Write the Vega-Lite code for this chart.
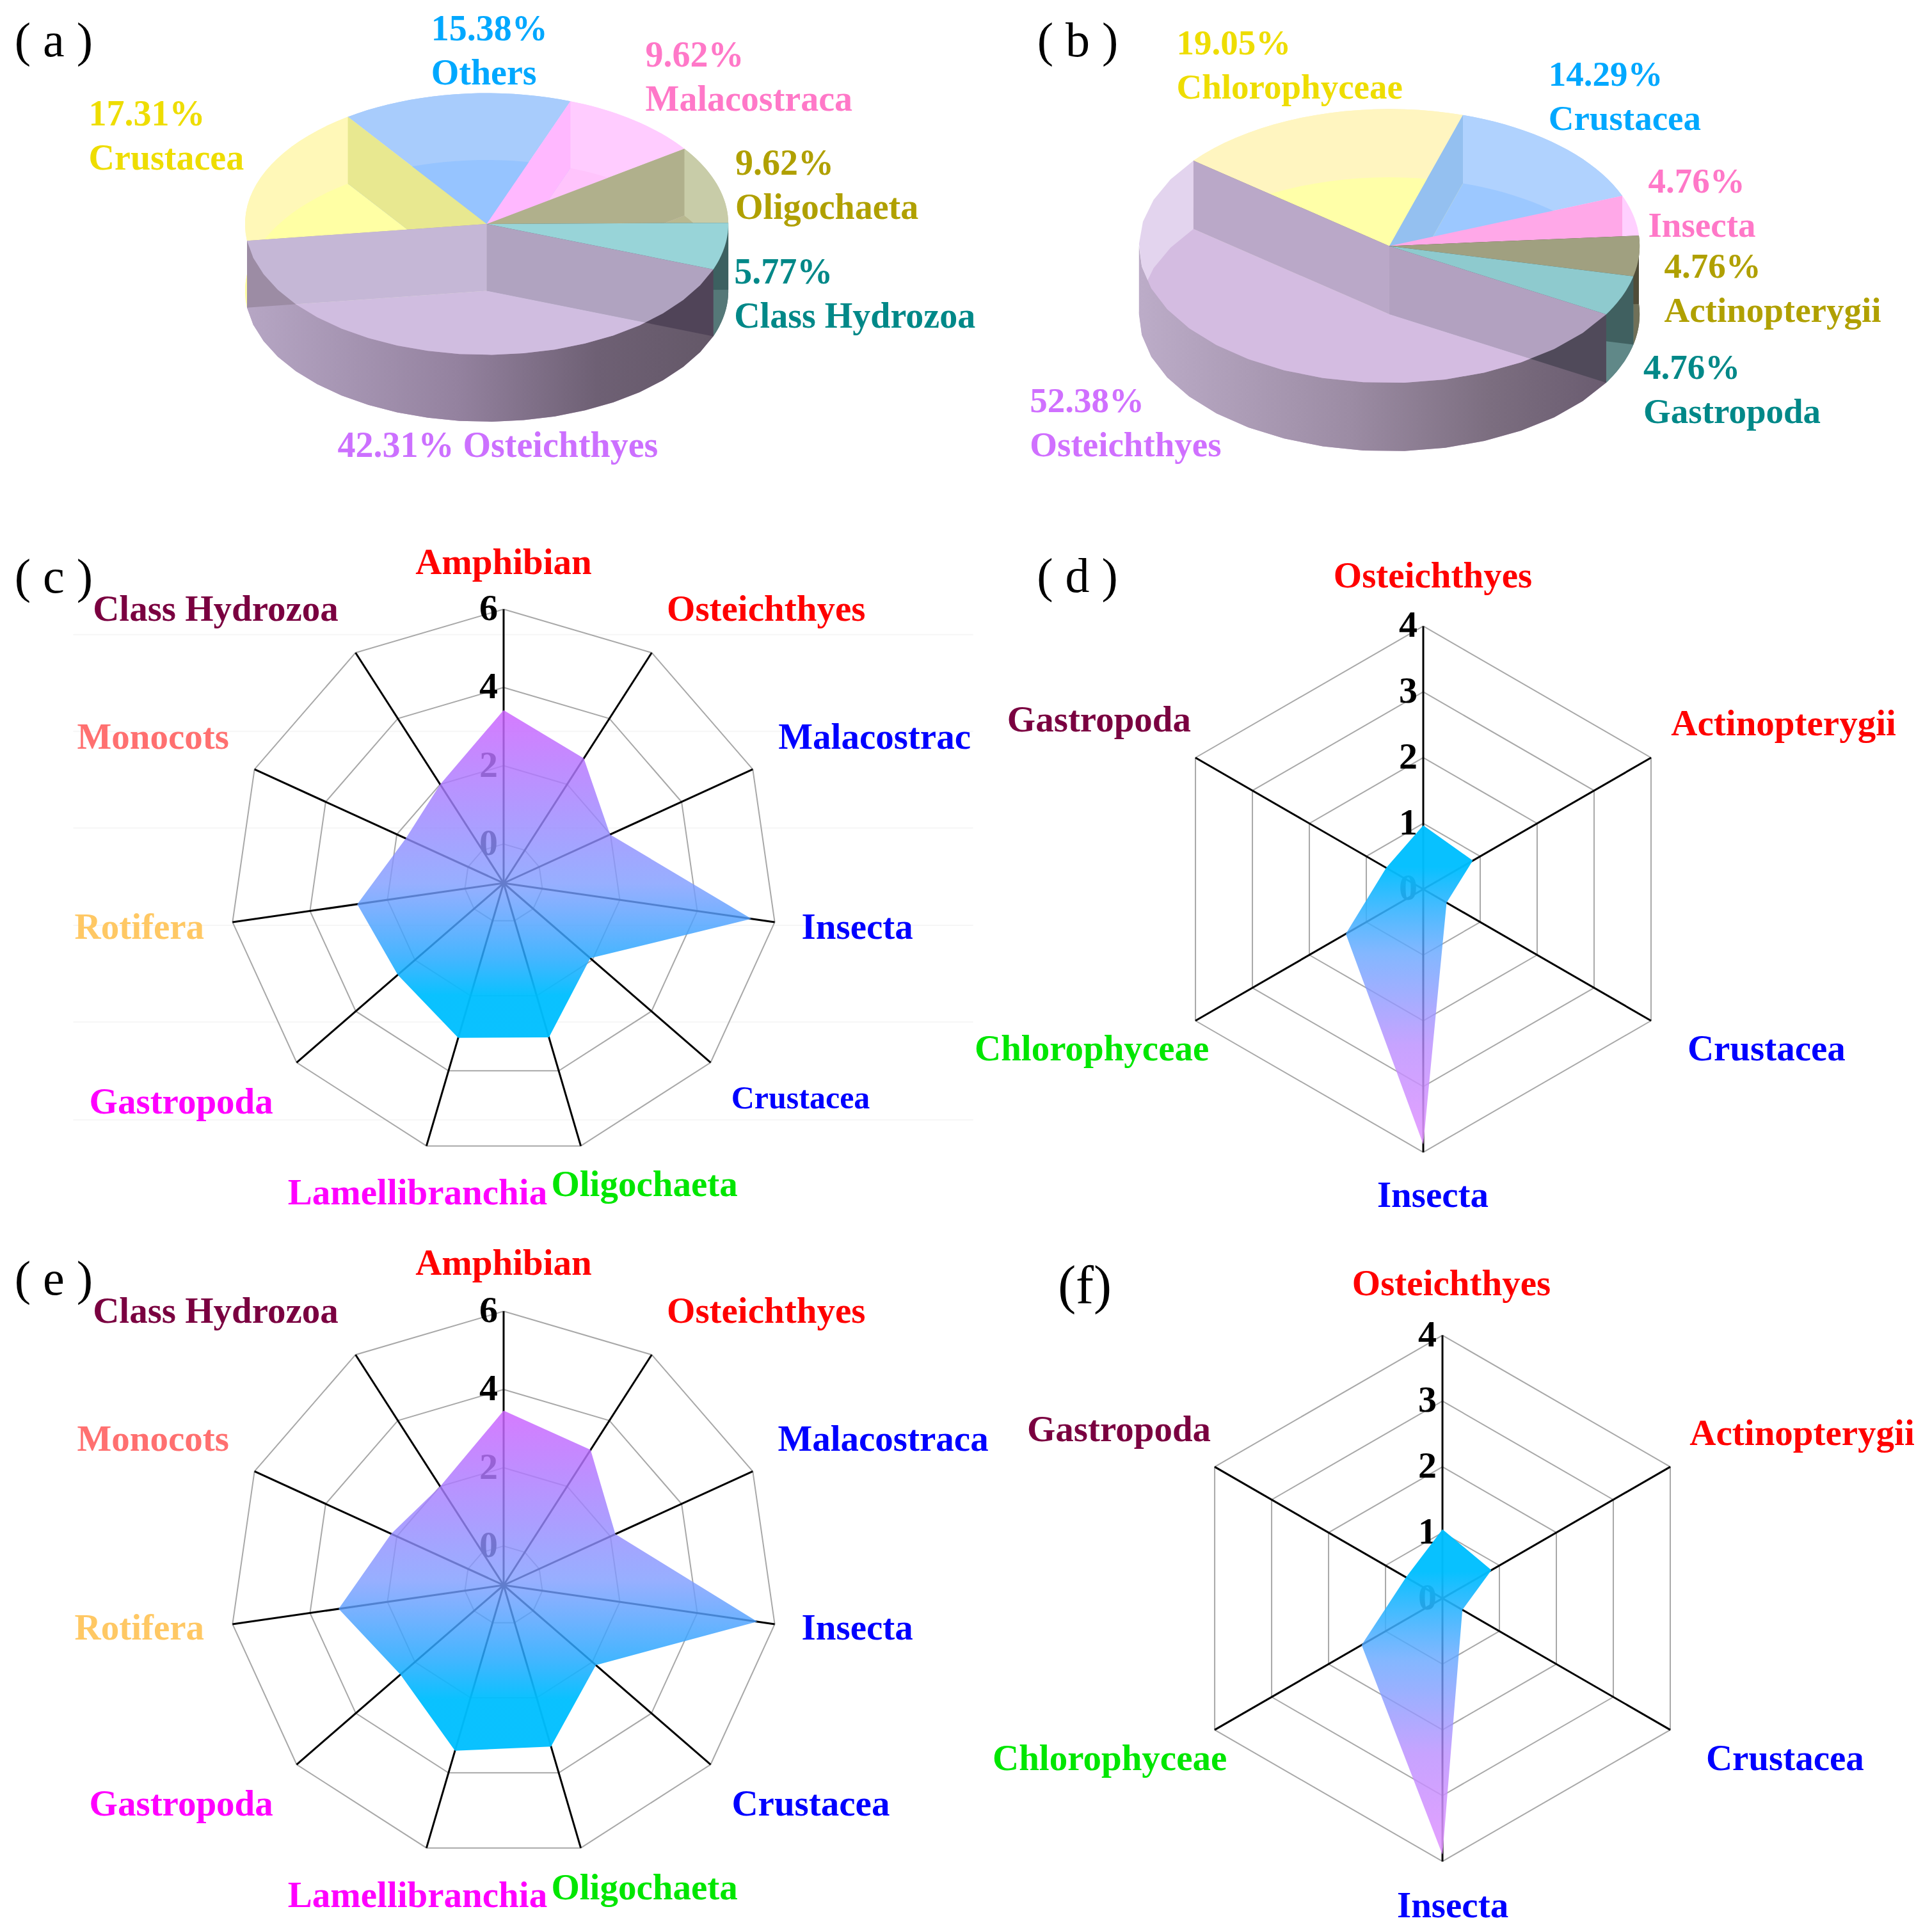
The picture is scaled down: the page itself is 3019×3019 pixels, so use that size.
{"$schema":"https://vega.github.io/schema/vega-lite/v6.json","padding":0,"background":"white","spacing":0,"resolve":{"scale":{"color":"independent","fill":"independent"}},"config":{"view":{"stroke":null},"concat":{"spacing":0},"text":{"font":"Liberation Serif"}},
"datasets":{
"pieA":[{"k":1,"slice":"Others","value":15.38},{"k":2,"slice":"Malacostraca","value":9.62},{"k":3,"slice":"Oligochaeta","value":9.62},{"k":4,"slice":"Class Hydrozoa","value":5.77},{"k":5,"slice":"Osteichthyes","value":42.31},{"k":6,"slice":"Crustacea","value":17.31}],
"pieB":[{"k":1,"slice":"Crustacea","value":14.29},{"k":2,"slice":"Insecta","value":4.76},{"k":3,"slice":"Actinopterygii","value":4.76},{"k":4,"slice":"Gastropoda","value":4.76},{"k":5,"slice":"Osteichthyes","value":52.38},{"k":6,"slice":"Chlorophyceae","value":19.05}],
"radarC":[{"cat":"Amphibian","i":0,"v":3.42},{"cat":"Osteichthyes","i":1,"v":2.79},{"cat":"Malacostraca","i":2,"v":1.99},{"cat":"Insecta","i":3,"v":5.4},{"cat":"Crustacea","i":4,"v":1.93},{"cat":"Oligochaeta","i":5,"v":3.11},{"cat":"Lamellibranchia","i":6,"v":3.12},{"cat":"Gastropoda","i":7,"v":2.58},{"cat":"Rotifera","i":8,"v":2.78},{"cat":"Monocots","i":9,"v":1.75},{"cat":"Class Hydrozoa","i":10,"v":2.0}],
"radarE":[{"cat":"Amphibian","i":0,"v":3.46},{"cat":"Osteichthyes","i":1,"v":3.11},{"cat":"Malacostraca","i":2,"v":2.14},{"cat":"Insecta","i":3,"v":5.55},{"cat":"Crustacea","i":4,"v":2.12},{"cat":"Oligochaeta","i":5,"v":3.3},{"cat":"Lamellibranchia","i":6,"v":3.41},{"cat":"Gastropoda","i":7,"v":2.49},{"cat":"Rotifera","i":8,"v":3.26},{"cat":"Monocots","i":9,"v":2.16},{"cat":"Class Hydrozoa","i":10,"v":2.0}],
"radarD":[{"cat":"Osteichthyes","i":0,"v":0.97},{"cat":"Actinopterygii","i":1,"v":0.87},{"cat":"Crustacea","i":2,"v":0.41},{"cat":"Insecta","i":3,"v":3.88},{"cat":"Chlorophyceae","i":4,"v":1.36},{"cat":"Gastropoda","i":5,"v":0.65}],
"radarF":[{"cat":"Osteichthyes","i":0,"v":1.05},{"cat":"Actinopterygii","i":1,"v":0.86},{"cat":"Crustacea","i":2,"v":0.35},{"cat":"Insecta","i":3,"v":3.9},{"cat":"Chlorophyceae","i":4,"v":1.42},{"cat":"Gastropoda","i":5,"v":0.64}],
"ring11":[{"ring":0,"i":[0,1,2,3,4,5,6,7,8,9,10,11]},{"ring":2,"i":[0,1,2,3,4,5,6,7,8,9,10,11]},{"ring":4,"i":[0,1,2,3,4,5,6,7,8,9,10,11]},{"ring":6,"i":[0,1,2,3,4,5,6,7,8,9,10,11]}],
"ring6":[{"ring":1,"i":[0,1,2,3,4,5,6]},{"ring":2,"i":[0,1,2,3,4,5,6]},{"ring":3,"i":[0,1,2,3,4,5,6]},{"ring":4,"i":[0,1,2,3,4,5,6]}],
"tick6":[{"ring":0},{"ring":1},{"ring":2},{"ring":3},{"ring":4}]
},
"vconcat":[
{"spacing":0,"resolve":{"scale":{"color":"independent","fill":"independent"}},"hconcat":[
{"width":1558,"height":800,"data":{"name":"pieA"},"resolve":{"scale":{"color":"independent","fill":"independent"}},
"transform":[{"window":[{"op":"sum","field":"value","as":"cum"}],"sort":[{"field":"k"}]},{"calculate":"(datum.cum-datum.value)*0.0628319-0.6126","as":"a0"},{"calculate":"datum.cum*0.0628319-0.6126","as":"a1"}],
"encoding":{"x":{"field":"x","type":"quantitative","axis":null,"scale":{"domain":[-2.014,2.112],"nice":false,"zero":false}},"y":{"field":"y","type":"quantitative","axis":null,"scale":{"domain":[-2.2005,1.7115],"nice":false,"zero":false}}},
"layer":[
{"transform":[{"filter":{"field":"slice","oneOf":["Others","Malacostraca","Oligochaeta","Crustacea"]}},{"calculate":"sequence(0,42)","as":"p"},{"flatten":["p"]},{"calculate":"datum.a0+(datum.a1-datum.a0)*(datum.p<=20?datum.p:41-datum.p)/20","as":"ang"},{"calculate":"sin(datum.ang)","as":"x"},{"calculate":"cos(datum.ang)-(datum.p>20?0.511:0)","as":"y"}],
"mark":{"type":"line","strokeWidth":0},"encoding":{"order":{"field":"p","type":"quantitative"},"fill":{"field":"slice","type":"nominal","legend":null,"scale":{"domain":["Others","Malacostraca","Oligochaeta","Crustacea"],"range":["#a8ccfc","#ffccff","#c8cca8","#fff8b8"]}}}},
{"transform":[{"filter":{"field":"slice","oneOf":["Others","Malacostraca","Oligochaeta","Crustacea"]}},{"calculate":"sequence(-1,21)","as":"p"},{"flatten":["p"]},{"calculate":"datum.a0+(datum.a1-datum.a0)*datum.p/20","as":"ang"},{"calculate":"datum.p<0?0:sin(datum.ang)","as":"x"},{"calculate":"datum.p<0?0:cos(datum.ang)","as":"y"}],
"mark":{"type":"line","strokeWidth":0},"encoding":{"order":{"field":"p","type":"quantitative"},"fill":{"field":"slice","type":"nominal","legend":null,"scale":{"domain":["Others","Malacostraca","Oligochaeta","Crustacea"],"range":["#a8ccfc","#ffccff","#c8cca8","#fff8b8"]}}}},
{"transform":[{"calculate":"sequence(-1,21)","as":"p"},{"flatten":["p"]},{"calculate":"datum.a0+(datum.a1-datum.a0)*datum.p/20","as":"ang"},{"calculate":"datum.p<0?0:sin(datum.ang)","as":"x"},{"calculate":"(datum.p<0?0:cos(datum.ang))-0.511","as":"y"}],
"mark":{"type":"line","strokeWidth":0},"encoding":{"order":{"field":"p","type":"quantitative"},"fill":{"field":"slice","type":"nominal","legend":null,"scale":{"domain":["Others","Malacostraca","Oligochaeta","Class Hydrozoa","Osteichthyes","Crustacea"],"range":["#96c4ff","#ffc4fc","#b8b890","#557878","#c1a0c8","#ffffa4"]}}}},
{"transform":[{"filter":{"field":"slice","equal":"Class Hydrozoa"}},{"calculate":"sequence(0,42)","as":"p"},{"flatten":["p"]},{"calculate":"datum.a0+(datum.a1-datum.a0)*(datum.p<=20?datum.p:41-datum.p)/20","as":"ang"},{"calculate":"sin(datum.ang)","as":"x"},{"calculate":"cos(datum.ang)-(datum.p>20?0.511:0)","as":"y"}],
"mark":{"type":"line","strokeWidth":0,"fill":"#557878"},"encoding":{"order":{"field":"p","type":"quantitative"}}},
{"transform":[{"filter":{"field":"slice","equal":"Osteichthyes"}},{"calculate":"sequence(0,42)","as":"p"},{"flatten":["p"]},{"calculate":"datum.a0+(datum.a1-datum.a0)*(datum.p<=20?datum.p:41-datum.p)/20","as":"ang"},{"calculate":"sin(datum.ang)","as":"x"},{"calculate":"cos(datum.ang)-(datum.p>20?0.511:0)","as":"y"}],
"mark":{"type":"line","strokeWidth":0,"fill":{"gradient":"linear","x1":1,"y1":0,"x2":0,"y2":0,"stops":[{"offset":0,"color":"#645868"},{"offset":0.25,"color":"#6e6074"},{"offset":0.55,"color":"#94829f"},{"offset":1,"color":"#b6a6c4"}]}},"encoding":{"order":{"field":"p","type":"quantitative"}}},
{"transform":[{"filter":{"field":"slice","oneOf":["Malacostraca","Oligochaeta","Class Hydrozoa"]}},{"calculate":"sequence(0,4)","as":"p"},{"flatten":["p"]},{"calculate":"(datum.p==1||datum.p==2)?sin(datum.a0):0","as":"x"},{"calculate":"((datum.p==1||datum.p==2)?cos(datum.a0):0)-(datum.p>=2?0.511:0)","as":"y"}],
"mark":{"type":"line","strokeWidth":0},"encoding":{"order":{"field":"p","type":"quantitative"},"fill":{"field":"slice","type":"nominal","legend":null,"scale":{"domain":["Malacostraca","Oligochaeta","Class Hydrozoa"],"range":["#ffb8ff","#b0b08c","#3c6060"]}}}},
{"transform":[{"filter":{"field":"slice","equal":"Crustacea"}},{"calculate":"sequence(0,4)","as":"p"},{"flatten":["p"]},{"calculate":"(datum.p==1||datum.p==2)?sin(datum.a1):0","as":"x"},{"calculate":"((datum.p==1||datum.p==2)?cos(datum.a1):0)-(datum.p>=2?0.511:0)","as":"y"}],
"mark":{"type":"line","strokeWidth":0,"fill":"#e8e890"},"encoding":{"order":{"field":"p","type":"quantitative"}}},
{"transform":[{"filter":{"field":"slice","equal":"Osteichthyes"}},{"calculate":"sequence(0,4)","as":"p"},{"flatten":["p"]},{"calculate":"(datum.p==1||datum.p==2)?sin(datum.a1):0","as":"x"},{"calculate":"((datum.p==1||datum.p==2)?cos(datum.a1):0)-(datum.p>=2?0.511:0)","as":"y"}],
"mark":{"type":"line","strokeWidth":0,"fill":"#9c8ca4"},"encoding":{"order":{"field":"p","type":"quantitative"}}},
{"transform":[{"filter":{"field":"slice","equal":"Osteichthyes"}},{"calculate":"sequence(0,4)","as":"p"},{"flatten":["p"]},{"calculate":"(datum.p==1||datum.p==2)?sin(datum.a0):0","as":"x"},{"calculate":"((datum.p==1||datum.p==2)?cos(datum.a0):0)-(datum.p>=2?0.511:0)","as":"y"}],
"mark":{"type":"line","strokeWidth":0,"fill":"#504458"},"encoding":{"order":{"field":"p","type":"quantitative"}}},
{"transform":[{"filter":{"field":"slice","equal":"Class Hydrozoa"}},{"calculate":"sequence(-1,21)","as":"p"},{"flatten":["p"]},{"calculate":"datum.a0+(datum.a1-datum.a0)*datum.p/20","as":"ang"},{"calculate":"datum.p<0?0:sin(datum.ang)","as":"x"},{"calculate":"datum.p<0?0:cos(datum.ang)","as":"y"}],
"mark":{"type":"line","strokeWidth":0,"fill":"#98d4d8"},"encoding":{"order":{"field":"p","type":"quantitative"}}},
{"transform":[{"filter":{"field":"slice","equal":"Osteichthyes"}},{"calculate":"sequence(-1,21)","as":"p"},{"flatten":["p"]},{"calculate":"datum.a0+(datum.a1-datum.a0)*datum.p/20","as":"ang"},{"calculate":"datum.p<0?0:sin(datum.ang)","as":"x"},{"calculate":"datum.p<0?0:cos(datum.ang)","as":"y"}],
"mark":{"type":"line","strokeWidth":0,"fill":"#d6c7e9","fillOpacity":0.72},"encoding":{"order":{"field":"p","type":"quantitative"}}},
{"data":{"values":[{"label":"15.38%\nOthers","x":-0.2297,"y":1.4847},{"label":"9.62%\nMalacostraca","x":0.657,"y":1.2867},{"label":"17.31%\nCrustacea","x":-1.647,"y":0.8357},{"label":"9.62%\nOligochaeta","x":1.029,"y":0.4587},{"label":"5.77%\nClass Hydrozoa","x":1.024,"y":-0.3693},{"label":"42.31% Osteichthyes","x":-0.617,"y":-1.696}]},
"mark":{"type":"text","align":"left","baseline":"middle","font":"Liberation Serif","fontWeight":"bold","fontSize":56,"lineBreak":"\n","lineHeight":69},
"encoding":{"text":{"field":"label"},"color":{"field":"label","type":"nominal","legend":null,"scale":{"domain":["15.38%\nOthers","9.62%\nMalacostraca","17.31%\nCrustacea","9.62%\nOligochaeta","5.77%\nClass Hydrozoa","42.31% Osteichthyes"],"range":["#00a8ff","#ff78c8","#eedd00","#b0a000","#008888","#cc70ff"]}}}},
{"data":{"values":[{"tag":"( a )","x":-1.7916,"y":1.394}]},"mark":{"type":"text","font":"Liberation Serif","fontSize":76,"baseline":"middle","color":"#000000"},"encoding":{"text":{"field":"tag"}}}
]},
{"width":1461,"height":800,"data":{"name":"pieB"},"resolve":{"scale":{"color":"independent","fill":"independent"}},
"transform":[{"window":[{"op":"sum","field":"value","as":"cum"}],"sort":[{"field":"k"}]},{"calculate":"(datum.cum-datum.value)*0.0628319+0.29845","as":"a0"},{"calculate":"datum.cum*0.0628319+0.29845","as":"a1"}],
"encoding":{"x":{"field":"x","type":"quantitative","axis":null,"scale":{"domain":[-1.567,2.168],"nice":false,"zero":false}},"y":{"field":"y","type":"quantitative","axis":null,"scale":{"domain":[-1.942,1.796],"nice":false,"zero":false}}},
"layer":[
{"transform":[{"filter":{"field":"slice","oneOf":["Crustacea","Insecta","Chlorophyceae"]}},{"calculate":"sequence(0,42)","as":"p"},{"flatten":["p"]},{"calculate":"datum.a0+(datum.a1-datum.a0)*(datum.p<=20?datum.p:41-datum.p)/20","as":"ang"},{"calculate":"sin(datum.ang)","as":"x"},{"calculate":"cos(datum.ang)-(datum.p>20?0.4986:0)","as":"y"}],
"mark":{"type":"line","strokeWidth":0},"encoding":{"order":{"field":"p","type":"quantitative"},"fill":{"field":"slice","type":"nominal","legend":null,"scale":{"domain":["Crustacea","Insecta","Chlorophyceae"],"range":["#b0d2fe","#ffd0ff","#fff5c0"]}}}},
{"transform":[{"filter":{"field":"slice","oneOf":["Crustacea","Insecta","Chlorophyceae"]}},{"calculate":"sequence(-1,21)","as":"p"},{"flatten":["p"]},{"calculate":"datum.a0+(datum.a1-datum.a0)*datum.p/20","as":"ang"},{"calculate":"datum.p<0?0:sin(datum.ang)","as":"x"},{"calculate":"datum.p<0?0:cos(datum.ang)","as":"y"}],
"mark":{"type":"line","strokeWidth":0},"encoding":{"order":{"field":"p","type":"quantitative"},"fill":{"field":"slice","type":"nominal","legend":null,"scale":{"domain":["Crustacea","Insecta","Chlorophyceae"],"range":["#b0d2fe","#ffd0ff","#fff5c0"]}}}},
{"transform":[{"calculate":"sequence(-1,21)","as":"p"},{"flatten":["p"]},{"calculate":"datum.a0+(datum.a1-datum.a0)*datum.p/20","as":"ang"},{"calculate":"datum.p<0?0:sin(datum.ang)","as":"x"},{"calculate":"(datum.p<0?0:cos(datum.ang))-0.4986","as":"y"}],
"mark":{"type":"line","strokeWidth":0},"encoding":{"order":{"field":"p","type":"quantitative"},"fill":{"field":"slice","type":"nominal","legend":null,"scale":{"domain":["Crustacea","Insecta","Actinopterygii","Gastropoda","Osteichthyes","Chlorophyceae"],"range":["#9cc8ff","#ffc0f0","#707058","#608888","#c8a8d0","#ffffa8"]}}}},
{"transform":[{"filter":{"field":"slice","oneOf":["Actinopterygii","Gastropoda"]}},{"calculate":"sequence(0,42)","as":"p"},{"flatten":["p"]},{"calculate":"datum.a0+(datum.a1-datum.a0)*(datum.p<=20?datum.p:41-datum.p)/20","as":"ang"},{"calculate":"sin(datum.ang)","as":"x"},{"calculate":"cos(datum.ang)-(datum.p>20?0.4986:0)","as":"y"}],
"mark":{"type":"line","strokeWidth":0},"encoding":{"order":{"field":"p","type":"quantitative"},"fill":{"field":"slice","type":"nominal","legend":null,"scale":{"domain":["Actinopterygii","Gastropoda"],"range":["#707058","#608888"]}}}},
{"transform":[{"filter":{"field":"slice","equal":"Osteichthyes"}},{"calculate":"sequence(0,42)","as":"p"},{"flatten":["p"]},{"calculate":"min(4.7124,datum.a0+(datum.a1-datum.a0)*(datum.p<=20?datum.p:41-datum.p)/20)","as":"ang"},{"calculate":"sin(datum.ang)","as":"x"},{"calculate":"cos(datum.ang)-(datum.p>20?0.4986:0)","as":"y"}],
"mark":{"type":"line","strokeWidth":0,"fill":{"gradient":"linear","x1":1,"y1":0,"x2":0,"y2":0,"stops":[{"offset":0,"color":"#6a5c70"},{"offset":0.25,"color":"#7c6e80"},{"offset":0.55,"color":"#9c8ca4"},{"offset":1,"color":"#bcacc8"}]}},"encoding":{"order":{"field":"p","type":"quantitative"}}},
{"transform":[{"filter":{"field":"slice","oneOf":["Crustacea","Insecta","Actinopterygii","Gastropoda"]}},{"calculate":"sequence(0,4)","as":"p"},{"flatten":["p"]},{"calculate":"(datum.p==1||datum.p==2)?sin(datum.a0):0","as":"x"},{"calculate":"((datum.p==1||datum.p==2)?cos(datum.a0):0)-(datum.p>=2?0.4986:0)","as":"y"}],
"mark":{"type":"line","strokeWidth":0},"encoding":{"order":{"field":"p","type":"quantitative"},"fill":{"field":"slice","type":"nominal","legend":null,"scale":{"domain":["Crustacea","Insecta","Actinopterygii","Gastropoda"],"range":["#94c0f0","#ffa8e8","#504c38","#406060"]}}}},
{"transform":[{"filter":{"field":"slice","equal":"Osteichthyes"}},{"calculate":"sequence(0,4)","as":"p"},{"flatten":["p"]},{"calculate":"(datum.p==1||datum.p==2)?sin(datum.a1):0","as":"x"},{"calculate":"((datum.p==1||datum.p==2)?cos(datum.a1):0)-(datum.p>=2?0.4986:0)","as":"y"}],
"mark":{"type":"line","strokeWidth":0,"fill":"#6e6078"},"encoding":{"order":{"field":"p","type":"quantitative"}}},
{"transform":[{"filter":{"field":"slice","equal":"Osteichthyes"}},{"calculate":"sequence(0,4)","as":"p"},{"flatten":["p"]},{"calculate":"(datum.p==1||datum.p==2)?sin(datum.a0):0","as":"x"},{"calculate":"((datum.p==1||datum.p==2)?cos(datum.a0):0)-(datum.p>=2?0.4986:0)","as":"y"}],
"mark":{"type":"line","strokeWidth":0,"fill":"#504a5a"},"encoding":{"order":{"field":"p","type":"quantitative"}}},
{"transform":[{"filter":{"field":"slice","oneOf":["Actinopterygii","Gastropoda"]}},{"calculate":"sequence(-1,21)","as":"p"},{"flatten":["p"]},{"calculate":"datum.a0+(datum.a1-datum.a0)*datum.p/20","as":"ang"},{"calculate":"datum.p<0?0:sin(datum.ang)","as":"x"},{"calculate":"datum.p<0?0:cos(datum.ang)","as":"y"}],
"mark":{"type":"line","strokeWidth":0},"encoding":{"order":{"field":"p","type":"quantitative"},"fill":{"field":"slice","type":"nominal","legend":null,"scale":{"domain":["Actinopterygii","Gastropoda"],"range":["#a0a080","#8ecace"]}}}},
{"transform":[{"filter":{"field":"slice","equal":"Osteichthyes"}},{"calculate":"sequence(-1,21)","as":"p"},{"flatten":["p"]},{"calculate":"datum.a0+(datum.a1-datum.a0)*datum.p/20","as":"ang"},{"calculate":"datum.p<0?0:sin(datum.ang)","as":"x"},{"calculate":"datum.p<0?0:cos(datum.ang)","as":"y"}],
"mark":{"type":"line","strokeWidth":0,"fill":"#d8c4e8","fillOpacity":0.72},"encoding":{"order":{"field":"p","type":"quantitative"}}},
{"data":{"values":[{"label":"19.05%\nChlorophyceae","x":-0.85,"y":1.48},{"label":"14.29%\nCrustacea","x":0.636,"y":1.247},{"label":"4.76%\nInsecta","x":1.034,"y":0.468},{"label":"4.76%\nActinopterygii","x":1.098,"y":-0.152},{"label":"4.76%\nGastropoda","x":1.015,"y":-0.89},{"label":"52.38%\nOsteichthyes","x":-1.436,"y":-1.133}]},
"mark":{"type":"text","align":"left","baseline":"middle","font":"Liberation Serif","fontWeight":"bold","fontSize":55,"lineBreak":"\n","lineHeight":69},
"encoding":{"text":{"field":"label"},"color":{"field":"label","type":"nominal","legend":null,"scale":{"domain":["19.05%\nChlorophyceae","14.29%\nCrustacea","4.76%\nInsecta","4.76%\nActinopterygii","4.76%\nGastropoda","52.38%\nOsteichthyes"],"range":["#eedd00","#00a8ff","#ff78c8","#b0a000","#008888","#d070ff"]}}}},
{"data":{"values":[{"tag":"( b )","x":-1.245,"y":1.4925}]},"mark":{"type":"text","font":"Liberation Serif","fontSize":76,"baseline":"middle","color":"#000000"},"encoding":{"text":{"field":"tag"}}}
]}
]},
{"spacing":0,"resolve":{"scale":{"color":"independent","fill":"independent"}},"hconcat":[
{"width":1522,"height":1135,"resolve":{"scale":{"color":"independent","fill":"independent"}},
"encoding":{"x":{"field":"x","type":"quantitative","axis":null,"scale":{"domain":[-12.872,12.022],"nice":false,"zero":false}},"y":{"field":"y","type":"quantitative","axis":null,"scale":{"domain":[-9.077,9.486],"nice":false,"zero":false}}},
"layer":[
{"data":{"values":[{"x":-11,"y":6.35},{"x":-11,"y":3.88},{"x":-11,"y":1.41},{"x":-11,"y":-1.08},{"x":-11,"y":-3.55},{"x":-11,"y":-6.05}]},"mark":{"type":"rule","color":"#f6f6f6","strokeWidth":2},"encoding":{"x2":{"datum":12.0},"y2":{"field":"y"}}},
{"data":{"name":"ring11"},"transform":[{"flatten":["i"]},{"calculate":"datum.i*2*PI/11","as":"a"},{"calculate":"(datum.ring+1)*sin(datum.a)","as":"x"},{"calculate":"(datum.ring+1)*cos(datum.a)","as":"y"}],"mark":{"type":"line","color":"#a8a8a8","strokeWidth":2},"encoding":{"detail":{"field":"ring"},"order":{"field":"i","type":"quantitative"}}},
{"data":{"name":"radarC"},"transform":[{"calculate":"datum.i*2*PI/11","as":"a"},{"calculate":"7*sin(datum.a)","as":"x"},{"calculate":"7*cos(datum.a)","as":"y"}],"mark":{"type":"rule","color":"#000000","strokeWidth":3},"encoding":{"x2":{"datum":0},"y2":{"datum":0}}},
{"data":{"values":[{"ring":0},{"ring":2},{"ring":4},{"ring":6}]},"transform":[{"calculate":"0","as":"x"},{"calculate":"datum.ring+1","as":"y"}],"mark":{"type":"text","align":"right","baseline":"middle","dx":-9,"font":"Liberation Serif","fontWeight":"bold","fontSize":58,"color":"#000000"},"encoding":{"text":{"field":"ring"}}},
{"data":{"name":"radarC"},"transform":[{"calculate":"datum.i*2*PI/11","as":"a"},{"calculate":"(datum.v+1)*sin(datum.a)","as":"x"},{"calculate":"(datum.v+1)*cos(datum.a)","as":"y"}],"mark":{"type":"line","strokeWidth":0,"fill":{"gradient":"linear","x1":0,"y1":0,"x2":0,"y2":1,"stops":[{"offset":0,"color":"rgba(206,100,255,0.85)"},{"offset":0.53,"color":"rgba(125,155,255,0.8)"},{"offset":0.75,"color":"rgba(40,168,255,0.85)"},{"offset":0.87,"color":"rgba(0,191,255,0.96)"},{"offset":1,"color":"rgba(0,191,255,0.96)"}]}},"encoding":{"order":{"field":"i","type":"quantitative"}}},
{"data":{"values":[{"label":"Amphibian","x":0,"y":8.18},{"label":"Osteichthyes","x":6.71,"y":6.98},{"label":"Malacostrac","x":9.48,"y":3.71},{"label":"Insecta","x":9.04,"y":-1.14},{"label":"Oligochaeta","x":3.6,"y":-7.72},{"label":"Lamellibranchia","x":-2.2,"y":-7.93},{"label":"Gastropoda","x":-8.24,"y":-5.61},{"label":"Rotifera","x":-9.31,"y":-1.14},{"label":"Monocots","x":-8.96,"y":3.71},{"label":"Class Hydrozoa","x":-7.36,"y":6.98}]},
"mark":{"type":"text","align":"center","baseline":"middle","font":"Liberation Serif","fontWeight":"bold","fontSize":57},
"encoding":{"text":{"field":"label"},"color":{"field":"label","type":"nominal","legend":null,"scale":{"domain":["Amphibian","Osteichthyes","Malacostrac","Insecta","Oligochaeta","Lamellibranchia","Gastropoda","Rotifera","Monocots","Class Hydrozoa"],"range":["#ff0000","#ff0000","#0000ff","#0000ff","#00e600","#ff00ff","#ff00ff","#ffc864","#ff7070","#7a0040"]}}}},
{"data":{"values":[{"label":"Crustacea","x":7.59,"y":-5.51}]},"mark":{"type":"text","align":"center","baseline":"middle","font":"Liberation Serif","fontWeight":"bold","fontSize":50,"color":"#0000ff"},"encoding":{"text":{"field":"label"}}},
{"data":{"values":[{"tag":"( c )","x":-11.5,"y":7.8}]},"mark":{"type":"text","font":"Liberation Serif","fontSize":76,"baseline":"middle","color":"#000000"},"encoding":{"text":{"field":"tag"}}}
]},
{"width":1497,"height":1135,"resolve":{"scale":{"color":"independent","fill":"independent"}},
"encoding":{"x":{"field":"x","type":"quantitative","axis":null,"scale":{"domain":[-6.832,7.737],"nice":false,"zero":false}},"y":{"field":"y","type":"quantitative","axis":null,"scale":{"domain":[-5.309,5.737],"nice":false,"zero":false}}},
"layer":[
{"data":{"name":"ring6"},"transform":[{"flatten":["i"]},{"calculate":"datum.i*PI/3","as":"a"},{"calculate":"datum.ring*sin(datum.a)","as":"x"},{"calculate":"datum.ring*cos(datum.a)","as":"y"}],"mark":{"type":"line","color":"#a8a8a8","strokeWidth":2},"encoding":{"detail":{"field":"ring"},"order":{"field":"i","type":"quantitative"}}},
{"data":{"name":"radarD"},"transform":[{"calculate":"datum.i*PI/3","as":"a"},{"calculate":"4*sin(datum.a)","as":"x"},{"calculate":"4*cos(datum.a)","as":"y"}],"mark":{"type":"rule","color":"#000000","strokeWidth":3},"encoding":{"x2":{"datum":0},"y2":{"datum":0}}},
{"data":{"name":"tick6"},"transform":[{"calculate":"0","as":"x"},{"calculate":"datum.ring","as":"y"}],"mark":{"type":"text","align":"right","baseline":"middle","dx":-9,"font":"Liberation Serif","fontWeight":"bold","fontSize":58,"color":"#000000"},"encoding":{"text":{"field":"ring"}}},
{"data":{"name":"radarD"},"transform":[{"calculate":"datum.i*PI/3","as":"a"},{"calculate":"datum.v*sin(datum.a)","as":"x"},{"calculate":"datum.v*cos(datum.a)","as":"y"}],"mark":{"type":"line","strokeWidth":0,"fill":{"gradient":"linear","x1":0,"y1":0,"x2":0,"y2":1,"stops":[{"offset":0,"color":"rgba(0,191,255,0.97)"},{"offset":0.13,"color":"rgba(0,191,255,0.97)"},{"offset":0.4,"color":"rgba(100,165,255,0.8)"},{"offset":0.69,"color":"rgba(185,140,255,0.8)"},{"offset":1,"color":"rgba(228,150,255,0.9)"}]}},"encoding":{"order":{"field":"i","type":"quantitative"}}},
{"data":{"values":[{"label":"Osteichthyes","x":0.146,"y":4.75},{"label":"Actinopterygii","x":5.48,"y":2.51},{"label":"Crustacea","x":5.22,"y":-2.44},{"label":"Insecta","x":0.146,"y":-4.67},{"label":"Chlorophyceae","x":-5.04,"y":-2.44},{"label":"Gastropoda","x":-4.93,"y":2.56}]},
"mark":{"type":"text","align":"center","baseline":"middle","font":"Liberation Serif","fontWeight":"bold","fontSize":57},
"encoding":{"text":{"field":"label"},"color":{"field":"label","type":"nominal","legend":null,"scale":{"domain":["Osteichthyes","Actinopterygii","Crustacea","Insecta","Chlorophyceae","Gastropoda"],"range":["#ff0000","#ff0000","#0000ff","#0000ff","#00e600","#7a0040"]}}}},
{"data":{"values":[{"tag":"( d )","x":-5.26,"y":4.74}]},"mark":{"type":"text","font":"Liberation Serif","fontSize":76,"baseline":"middle","color":"#000000"},"encoding":{"text":{"field":"tag"}}}
]}
]},
{"spacing":0,"resolve":{"scale":{"color":"independent","fill":"independent"}},"hconcat":[
{"width":1550,"height":1084,"resolve":{"scale":{"color":"independent","fill":"independent"}},
"encoding":{"x":{"field":"x","type":"quantitative","axis":null,"scale":{"domain":[-12.872,12.48],"nice":false,"zero":false}},"y":{"field":"y","type":"quantitative","axis":null,"scale":{"domain":[-8.865,8.865],"nice":false,"zero":false}}},
"layer":[
{"data":{"name":"ring11"},"transform":[{"flatten":["i"]},{"calculate":"datum.i*2*PI/11","as":"a"},{"calculate":"(datum.ring+1)*sin(datum.a)","as":"x"},{"calculate":"(datum.ring+1)*cos(datum.a)","as":"y"}],"mark":{"type":"line","color":"#a8a8a8","strokeWidth":2},"encoding":{"detail":{"field":"ring"},"order":{"field":"i","type":"quantitative"}}},
{"data":{"name":"radarE"},"transform":[{"calculate":"datum.i*2*PI/11","as":"a"},{"calculate":"7*sin(datum.a)","as":"x"},{"calculate":"7*cos(datum.a)","as":"y"}],"mark":{"type":"rule","color":"#000000","strokeWidth":3},"encoding":{"x2":{"datum":0},"y2":{"datum":0}}},
{"data":{"values":[{"ring":0},{"ring":2},{"ring":4},{"ring":6}]},"transform":[{"calculate":"0","as":"x"},{"calculate":"datum.ring+1","as":"y"}],"mark":{"type":"text","align":"right","baseline":"middle","dx":-9,"font":"Liberation Serif","fontWeight":"bold","fontSize":58,"color":"#000000"},"encoding":{"text":{"field":"ring"}}},
{"data":{"name":"radarE"},"transform":[{"calculate":"datum.i*2*PI/11","as":"a"},{"calculate":"(datum.v+1)*sin(datum.a)","as":"x"},{"calculate":"(datum.v+1)*cos(datum.a)","as":"y"}],"mark":{"type":"line","strokeWidth":0,"fill":{"gradient":"linear","x1":0,"y1":0,"x2":0,"y2":1,"stops":[{"offset":0,"color":"rgba(206,100,255,0.85)"},{"offset":0.5,"color":"rgba(125,155,255,0.8)"},{"offset":0.72,"color":"rgba(40,168,255,0.85)"},{"offset":0.85,"color":"rgba(0,191,255,0.96)"},{"offset":1,"color":"rgba(0,191,255,0.96)"}]}},"encoding":{"order":{"field":"i","type":"quantitative"}}},
{"data":{"values":[{"label":"Amphibian","x":0,"y":8.21},{"label":"Osteichthyes","x":6.71,"y":6.98},{"label":"Malacostraca","x":9.7,"y":3.71},{"label":"Insecta","x":9.04,"y":-1.11},{"label":"Crustacea","x":7.85,"y":-5.61},{"label":"Oligochaeta","x":3.6,"y":-7.75},{"label":"Lamellibranchia","x":-2.2,"y":-7.95},{"label":"Gastropoda","x":-8.24,"y":-5.61},{"label":"Rotifera","x":-9.31,"y":-1.11},{"label":"Monocots","x":-8.96,"y":3.71},{"label":"Class Hydrozoa","x":-7.36,"y":6.98}]},
"mark":{"type":"text","align":"center","baseline":"middle","font":"Liberation Serif","fontWeight":"bold","fontSize":57},
"encoding":{"text":{"field":"label"},"color":{"field":"label","type":"nominal","legend":null,"scale":{"domain":["Amphibian","Osteichthyes","Malacostraca","Insecta","Crustacea","Oligochaeta","Lamellibranchia","Gastropoda","Rotifera","Monocots","Class Hydrozoa"],"range":["#ff0000","#ff0000","#0000ff","#0000ff","#0000ff","#00e600","#ff00ff","#ff00ff","#ffc864","#ff7070","#7a0040"]}}}},
{"data":{"values":[{"tag":"( e )","x":-11.5,"y":7.8}]},"mark":{"type":"text","font":"Liberation Serif","fontSize":76,"baseline":"middle","color":"#000000"},"encoding":{"text":{"field":"tag"}}}
]},
{"width":1469,"height":1084,"resolve":{"scale":{"color":"independent","fill":"independent"}},
"encoding":{"x":{"field":"x","type":"quantitative","axis":null,"scale":{"domain":[-6.852,7.445],"nice":false,"zero":false}},"y":{"field":"y","type":"quantitative","axis":null,"scale":{"domain":[-5.074,5.475],"nice":false,"zero":false}}},
"layer":[
{"data":{"name":"ring6"},"transform":[{"flatten":["i"]},{"calculate":"datum.i*PI/3","as":"a"},{"calculate":"datum.ring*sin(datum.a)","as":"x"},{"calculate":"datum.ring*cos(datum.a)","as":"y"}],"mark":{"type":"line","color":"#a8a8a8","strokeWidth":2},"encoding":{"detail":{"field":"ring"},"order":{"field":"i","type":"quantitative"}}},
{"data":{"name":"radarF"},"transform":[{"calculate":"datum.i*PI/3","as":"a"},{"calculate":"4*sin(datum.a)","as":"x"},{"calculate":"4*cos(datum.a)","as":"y"}],"mark":{"type":"rule","color":"#000000","strokeWidth":3},"encoding":{"x2":{"datum":0},"y2":{"datum":0}}},
{"data":{"name":"tick6"},"transform":[{"calculate":"0","as":"x"},{"calculate":"datum.ring","as":"y"}],"mark":{"type":"text","align":"right","baseline":"middle","dx":-9,"font":"Liberation Serif","fontWeight":"bold","fontSize":58,"color":"#000000"},"encoding":{"text":{"field":"ring"}}},
{"data":{"name":"radarF"},"transform":[{"calculate":"datum.i*PI/3","as":"a"},{"calculate":"datum.v*sin(datum.a)","as":"x"},{"calculate":"datum.v*cos(datum.a)","as":"y"}],"mark":{"type":"line","strokeWidth":0,"fill":{"gradient":"linear","x1":0,"y1":0,"x2":0,"y2":1,"stops":[{"offset":0,"color":"rgba(0,191,255,0.97)"},{"offset":0.13,"color":"rgba(0,191,255,0.97)"},{"offset":0.4,"color":"rgba(100,165,255,0.8)"},{"offset":0.69,"color":"rgba(185,140,255,0.8)"},{"offset":1,"color":"rgba(228,150,255,0.9)"}]}},"encoding":{"order":{"field":"i","type":"quantitative"}}},
{"data":{"values":[{"label":"Osteichthyes","x":0.136,"y":4.77},{"label":"Actinopterygii","x":5.47,"y":2.5},{"label":"Crustacea","x":5.21,"y":-2.45},{"label":"Insecta","x":0.156,"y":-4.68},{"label":"Chlorophyceae","x":-5.06,"y":-2.45},{"label":"Gastropoda","x":-4.92,"y":2.56}]},
"mark":{"type":"text","align":"center","baseline":"middle","font":"Liberation Serif","fontWeight":"bold","fontSize":57},
"encoding":{"text":{"field":"label"},"color":{"field":"label","type":"nominal","legend":null,"scale":{"domain":["Osteichthyes","Actinopterygii","Crustacea","Insecta","Chlorophyceae","Gastropoda"],"range":["#ff0000","#ff0000","#0000ff","#0000ff","#00e600","#7a0040"]}}}},
{"data":{"values":[{"tag":"(f)","x":-5.44,"y":4.736}]},"mark":{"type":"text","font":"Liberation Serif","fontSize":84,"baseline":"middle","color":"#000000"},"encoding":{"text":{"field":"tag"}}}
]}
]}
]}
